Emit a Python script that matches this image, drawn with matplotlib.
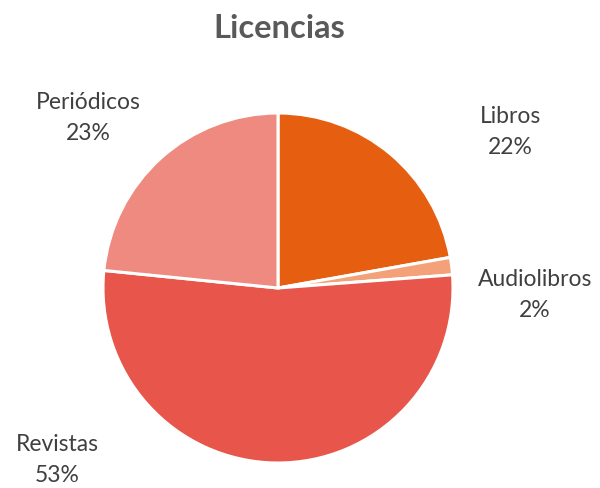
import matplotlib.pyplot as plt

# Licencias por tipo de contenido
categories = ['Libros', 'Audiolibros', 'Revistas', 'Periódicos']
values = [22.2, 1.6, 52.8, 23.4]
pct_labels = ['22%', '2%', '53%', '23%']
colors = ['#E65F10', '#F4A079', '#E8554A', '#EE8A80']

plt.rcParams['font.family'] = ['Lato', 'DejaVu Sans']

fig = plt.figure(figsize=(6, 4.88), dpi=100)
ax = fig.add_axes([0, 0, 1, 1])
ax.set_xlim(0, 600)
ax.set_ylim(0, 488)
ax.set_aspect('equal')
ax.axis('off')

ax.pie(values, colors=colors, startangle=90, counterclock=False,
       center=(278, 200), radius=175,
       wedgeprops=dict(edgecolor='white', linewidth=2.2))
ax.set_xlim(0, 600)
ax.set_ylim(0, 488)

# label positions (pixel-ish, y measured from bottom)
label_pos = [(510, 356), (535, 193), (57, 28), (88, 370)]
for name, pct, (x, y) in zip(categories, pct_labels, label_pos):
    ax.text(x, y, name + '\n' + pct, ha='center', va='center',
            fontsize=16.5, color='#404040', linespacing=1.6)

ax.text(279, 459, 'Licencias', ha='center', va='center',
        fontsize=23.5, fontweight='bold', color='#595959')

fig.savefig('out.png', dpi=100)
